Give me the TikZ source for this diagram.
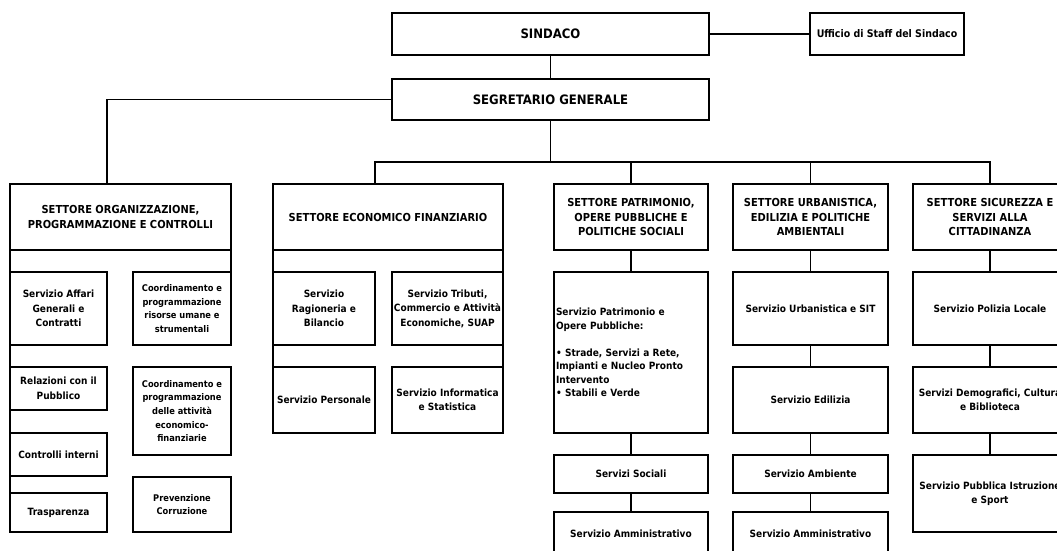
\documentclass[tikz,border=0pt]{standalone}
\usepackage{fontspec}
\setmainfont{DejaVu Sans}[FakeStretch=0.9]
\begin{document}
\begin{tikzpicture}[x=1pt,y=-1pt,
            unit/.style={draw,line width=2pt,outer sep=0pt,inner sep=1pt,align=center,font=\bfseries\fontsize{10}{14.5}\selectfont},
            head/.style={unit,font=\bfseries\fontsize{11}{14.5}\selectfont},
            chief/.style={unit,font=\bfseries\fontsize{13}{16}\selectfont},
            smalltxt/.style={font=\bfseries\fontsize{9.2}{13.7}\selectfont},
            sz/.style 2 args={minimum width=#1,minimum height=#2},
            wire/.style={line width=1.6pt},
        ]
    \clip (0,0) rectangle (1057,550);

    \node[chief,sz={317}{42}] (sind) at (550.5,34) {SINDACO};
    \node[unit,sz={154}{42},font=\bfseries\fontsize{10.5}{13}\selectfont] (staff) at (887,34) {Ufficio di Staff del Sindaco};
    \draw[wire] (sind) -- (staff);
    \node[chief,sz={317}{41}] (segr) at (550.5,99.5) {SEGRETARIO GENERALE};
    \draw[wire] (sind) -- (segr);

    \node[head,sz={221}{66}] (org) at (120.5,217) {SETTORE ORGANIZZAZIONE,\\PROGRAMMAZIONE E CONTROLLI};
    \node[head,sz={230}{66}] (eco) at (388,217) {SETTORE ECONOMICO FINANZIARIO};
    \node[head,sz={154}{66}] (pat) at (631,217) {SETTORE PATRIMONIO,\\OPERE PUBBLICHE E\\POLITICHE SOCIALI};
    \node[head,sz={155}{66}] (urb) at (810.5,217) {SETTORE URBANISTICA,\\EDILIZIA E POLITICHE\\AMBIENTALI};
    \node[head,sz={154}{66}] (sic) at (990,217) {SETTORE SICUREZZA E\\SERVIZI ALLA\\CITTADINANZA};

    \draw[wire] (segr.west) -| ([xshift=-13.5pt]org.north);
    \coordinate (bus) at (550.5,162);
    \draw[wire] (segr.south) -- (bus);
    \draw[wire] ([xshift=-13pt]eco.north) |- (bus) -| (sic.north);
    \draw[wire] (pat.north) |- (bus);
    \draw[wire] (urb.north) |- (bus);

    % organizzazione
    \node[unit,sz={97}{73}] (affari) at (58.5,308.5) {Servizio Affari\\Generali e\\Contratti};
    \node[unit,sz={97}{43}] (relaz) at (58.5,388.5) {Relazioni con il\\Pubblico};
    \node[unit,sz={97}{43}] (interni) at (58.5,454.5) {Controlli interni};
    \node[unit,sz={97}{39}] (trasp) at (58.5,512.5) {Trasparenza};
    \node[unit,smalltxt,sz={98}{73}] (risorse) at (182,308.5) {Coordinamento e\\programmazione\\risorse umane e\\strumentali};
    \node[unit,smalltxt,sz={98}{88}] (econfin) at (182,411) {Coordinamento e\\programmazione\\delle attività\\economico-\\finanziarie};
    \node[unit,smalltxt,sz={98}{55}] (corruz) at (182,504.5) {Prevenzione\\Corruzione};
    \draw[wire] (org.south west) -- (trasp.north west);
    \draw[wire] (org.south east) -- (risorse.north east);

    % economico finanziario
    \node[unit,sz={102}{73}] (ragion) at (324,308.5) {Servizio\\Ragioneria e\\Bilancio};
    \node[unit,sz={111}{73}] (tributi) at (447.5,308.5) {Servizio Tributi,\\Commercio e Attività\\Economiche, SUAP};
    \node[unit,sz={102}{66}] (person) at (324,400) {Servizio Personale};
    \node[unit,sz={111}{66}] (inform) at (447.5,400) {Servizio Informatica\\e Statistica};
    \draw[wire] (eco.south west) -- (person.north west);
    \draw[wire] (eco.south east) -- (inform.north east);

    % patrimonio
    \node[unit,sz={154}{161},align=left,text width=150pt,inner sep=2pt,font=\bfseries\fontsize{10}{13.5}\selectfont] (patserv) at (631,352.5) {Servizio Patrimonio e\\Opere Pubbliche:\\[13.5pt]• Strade, Servizi a Rete,\\Impianti e Nucleo Pronto\\Intervento\\• Stabili e Verde};
    \node[unit,sz={154}{38}] (sociali) at (631,474) {Servizi Sociali};
    \node[unit,sz={154}{43}] (ammpat) at (631,533.5) {Servizio Amministrativo};
    \draw[wire] (pat) -- (patserv);
    \draw[wire] (patserv) -- (sociali);
    \draw[wire] (sociali) -- (ammpat);

    % urbanistica
    \node[unit,sz={155}{73}] (urbsit) at (810.5,308.5) {Servizio Urbanistica e SIT};
    \node[unit,sz={155}{66}] (edil) at (810.5,400) {Servizio Edilizia};
    \node[unit,sz={155}{38}] (amb) at (810.5,474) {Servizio Ambiente};
    \node[unit,sz={155}{43}] (ammurb) at (810.5,533.5) {Servizio Amministrativo};
    \draw[wire] (urb) -- (urbsit);
    \draw[wire] (urbsit) -- (edil);
    \draw[wire] (edil) -- (amb);
    \draw[wire] (amb) -- (ammurb);

    % sicurezza
    \node[unit,sz={154}{73}] (polizia) at (990,308.5) {Servizio Polizia Locale};
    \node[unit,sz={154}{66}] (demog) at (990,400) {Servizi Demografici, Cultura\\e Biblioteca};
    \node[unit,sz={154}{77}] (istruz) at (990,493.5) {Servizio Pubblica Istruzione\\e Sport};
    \draw[wire] (sic) -- (polizia);
    \draw[wire] (polizia) -- (demog);
    \draw[wire] (demog) -- (istruz);
\end{tikzpicture}
\end{document}
